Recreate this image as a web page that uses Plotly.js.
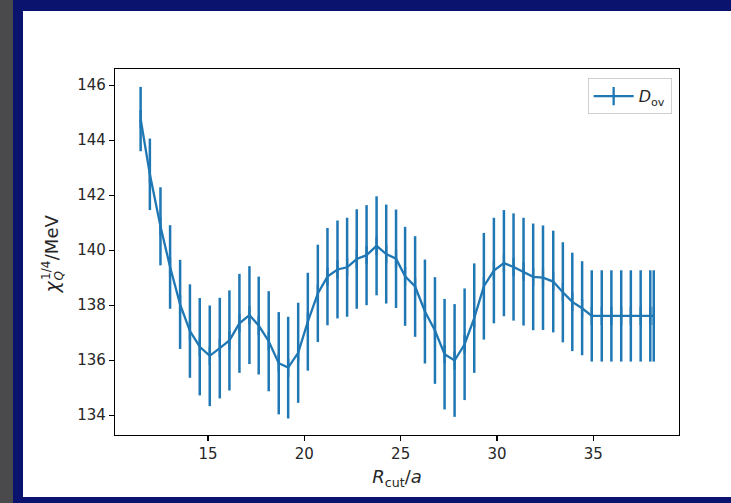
<!DOCTYPE html>
<html>
<head>
<meta charset="utf-8">
<script src="https://cdn.plot.ly/plotly-3.0.1.min.js"></script>
<style>
  html, body { margin: 0; padding: 0; width: 731px; height: 503px; overflow: hidden; background: #4a4a4c; }
  #navy { position: absolute; left: 13px; top: 0; width: 718px; height: 503px; background: #0a146f; }
  #panel { position: absolute; left: 23px; top: 11px; width: 708px; height: 486px; background: #ffffff; }
  #chart { position: absolute; left: 0; top: 0; width: 731px; height: 503px; }
</style>
</head>
<body>
<div id="navy"></div>
<div id="panel"></div>
<div id="chart"></div>
<script>
// R_cut / a values
const rcut = [11.50, 11.98, 12.53, 13.03, 13.55, 14.06, 14.57, 15.09, 15.61, 16.11,
              16.63, 17.15, 17.63, 18.15, 18.67, 19.16, 19.68, 20.18, 20.70, 21.20,
              21.72, 22.22, 22.72, 23.23, 23.75, 24.25, 24.76, 25.23, 25.75, 26.26,
              26.78, 27.28, 27.80, 28.32, 28.82, 29.32, 29.84, 30.36, 30.86, 31.38,
              31.88, 32.39, 32.92, 33.42, 33.91, 34.42, 34.92, 35.44, 35.94, 36.45,
              36.95, 37.46, 37.96, 38.14];
// chi_Q^{1/4} in MeV
const chiQ = [144.77, 142.76, 140.87, 139.39, 138.03, 137.06, 136.49, 136.16, 136.44, 136.72,
              137.34, 137.64, 137.26, 136.69, 135.89, 135.73, 136.27, 137.40, 138.43, 139.04,
              139.30, 139.38, 139.68, 139.82, 140.16, 139.86, 139.69, 139.05, 138.68, 137.77,
              137.08, 136.22, 135.99, 136.58, 137.53, 138.69, 139.26, 139.53, 139.39, 139.22,
              139.03, 139.00, 138.86, 138.47, 138.12, 137.89, 137.61, 137.61, 137.61, 137.61,
              137.61, 137.61, 137.61, 137.61];
// symmetric errors
const chiErr = [1.17, 1.30, 1.42, 1.52, 1.62, 1.70, 1.77, 1.83, 1.83, 1.82,
                1.80, 1.78, 1.78, 1.82, 1.86, 1.85, 1.82, 1.78, 1.77, 1.77,
                1.78, 1.80, 1.81, 1.82, 1.80, 1.80, 1.79, 1.80, 1.83, 1.89,
                1.94, 2.01, 2.05, 2.03, 1.99, 1.94, 1.92, 1.93, 1.95, 1.96,
                1.94, 1.90, 1.85, 1.82, 1.79, 1.71, 1.66, 1.66, 1.66, 1.66,
                1.66, 1.66, 1.66, 1.66];
const xTicks = [15, 20, 25, 30, 35];
const yTicks = [134, 136, 138, 140, 142, 144, 146];
const seriesName = '<i>D</i><sub>ov</sub>';
// y-axis title pieces: χ, subscript Q, superscript 1/4, "/MeV"
const yTitleParts = ['<i>χ</i>', '<i>Q</i>', '1/4', '/MeV'];

const C0 = '#1f77b4';
const txt = '#262626';
const fontFam = 'DejaVu Sans, sans-serif';

const trace = {
  x: rcut, y: chiQ, type: 'scatter', mode: 'lines+markers', name: seriesName,
  line: { color: C0, width: 2.3 },
  marker: { symbol: 'line-ns-open', size: 13, color: C0, line: { color: C0, width: 2.3 } },
  error_y: { type: 'data', array: chiErr, visible: true, color: C0, thickness: 2.5, width: 0 },
  showlegend: true
};

const axisCommon = {
  showgrid: false, zeroline: false, showline: true, mirror: true,
  linecolor: '#000', linewidth: 1.2, ticks: 'outside', ticklen: 5, tickwidth: 1.2,
  tickcolor: '#000', tickfont: { family: fontFam, size: 15, color: txt }
};

// plot-area geometry (px) used to place the rotated title pieces
const L = 115, T = 69, W = 731 - 115 - 52, H = 503 - 69 - 68;
const px2x = p => (p - L) / W;
const px2y = p => (T + H - p) / H;
function part(text, cx, cy, size) {
  return { text: text, xref: 'paper', yref: 'paper', x: px2x(cx), y: px2y(cy),
           xanchor: 'center', yanchor: 'middle', textangle: -90, showarrow: false,
           font: { family: fontFam, size: size, color: txt } };
}

const layout = {
  width: 731, height: 503,
  margin: { l: L, r: 52, t: T, b: 68 },
  paper_bgcolor: 'rgba(0,0,0,0)', plot_bgcolor: '#ffffff',
  showlegend: true,
  xaxis: Object.assign({}, axisCommon, {
    range: [10.17, 39.45], tickvals: xTicks, ticktext: xTicks.map(String),
    title: { text: '<i>R</i><sub>cut</sub>/<i>a</i>', font: { family: fontFam, size: 18, color: txt }, standoff: 8 }
  }),
  yaxis: Object.assign({}, axisCommon, {
    range: [133.28, 146.59], tickvals: yTicks, ticktext: yTicks.map(String)
  }),
  annotations: [
    part(yTitleParts[0], 51.5, 287, 19),
    part(yTitleParts[1], 58.5, 276, 12),
    part(yTitleParts[2], 45.5, 270.5, 12),
    part(yTitleParts[3], 51.7, 237.5, 18)
  ],
  legend: {
    x: 0.987, y: 0.975, xanchor: 'right', yanchor: 'top',
    bgcolor: 'rgba(255,255,255,0.8)', bordercolor: '#d0d0d0', borderwidth: 1,
    itemwidth: 40,
    font: { family: fontFam, size: 16, color: txt }
  }
};

Plotly.newPlot('chart', [trace], layout, { staticPlot: true, displayModeBar: false });
</script>
</body>
</html>
